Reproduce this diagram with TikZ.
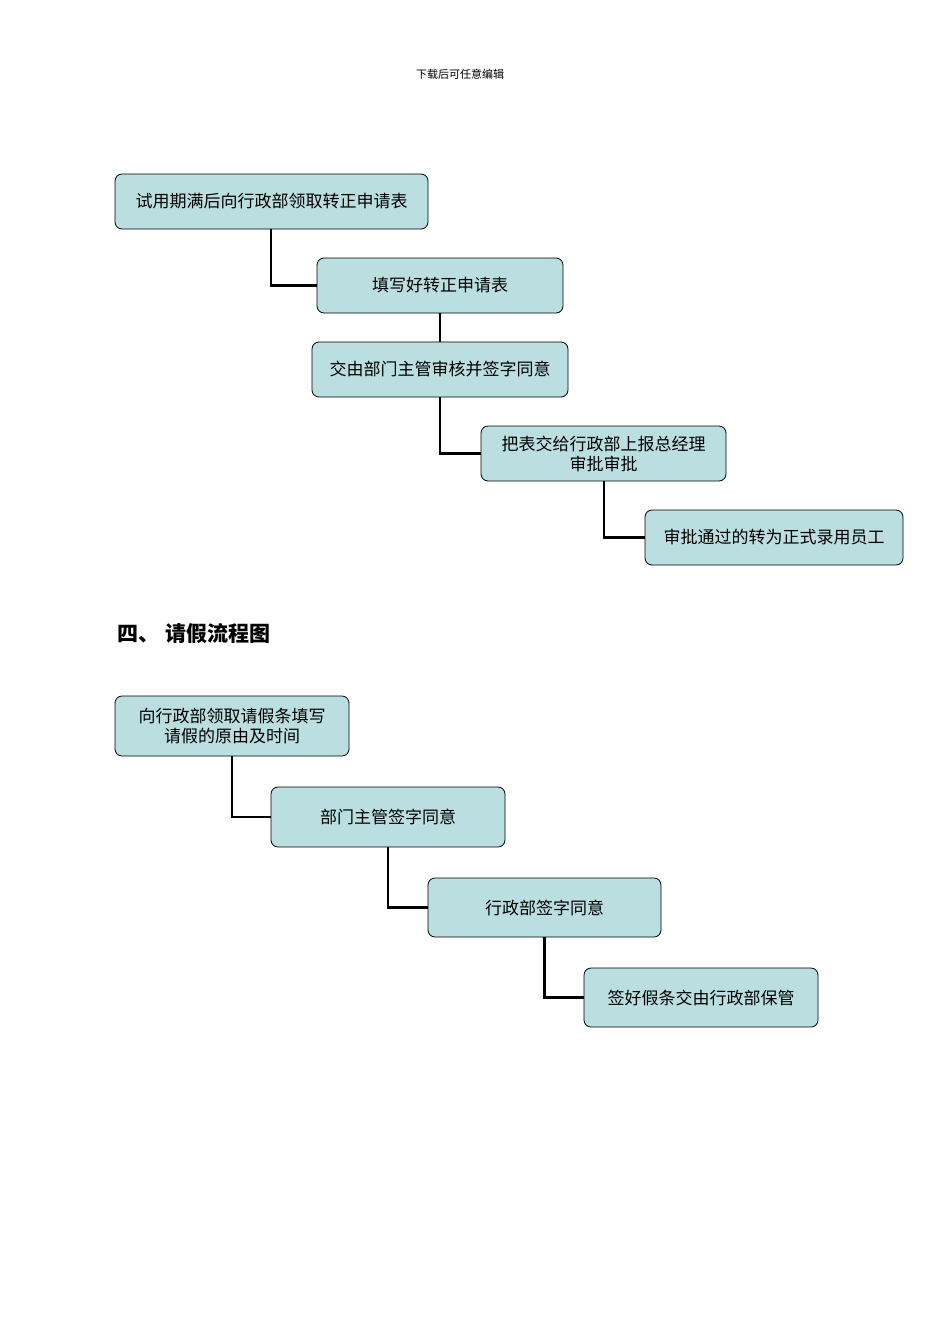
\documentclass[tikz,border=0pt]{standalone}
\usepackage{fontspec}
\setmainfont{Noto Sans CJK SC}
\begin{document}
\begin{tikzpicture}[x=1pt,y=-1pt,
  box/.style={draw=black,fill=boxfill,rounded corners=7pt,line width=0.8pt,align=center,inner sep=0pt,font=\fontsize{17}{20}\selectfont},
  conn/.style={line width=2.5pt}]
\definecolor{boxfill}{HTML}{BBDFE0}
\useasboundingbox (0,0) rectangle (950,1344);
\node[font=\fontsize{11}{13}\selectfont] (hdr) at (460,74) {下载后可任意编辑};
\newcommand{\bx}[6]{\node[box,minimum width=#4-#2,minimum height=#5-#3] (#1) at ({(#2+#4)/2},{(#3+#5)/2}) {#6};}
\bx{b1}{115}{174}{428}{229}{试用期满后向行政部领取转正申请表}
\bx{b2}{317}{258}{563}{313}{填写好转正申请表}
\bx{b3}{312}{342}{568}{397}{交由部门主管审核并签字同意}
\bx{b4}{481}{426}{726}{481}{把表交给行政部上报总经理\\审批审批}
\bx{b5}{645}{510}{903}{565}{审批通过的转为正式录用员工}
\draw[conn] (b1.south -| 271,0) |- (b2.west);
\draw[conn] (b2.south) -- (b3.north);
\draw[conn] (b3.south) |- (b4.west);
\draw[conn] (b4.south -| 604,0) |- (b5.west);
\node[anchor=west,font=\fontsize{21}{24}\selectfont\bfseries] (h4) at (114,634) {四、\hspace{6pt}请假流程图};
\bx{c1}{115}{696}{349}{756}{向行政部领取请假条填写\\请假的原由及时间}
\bx{c2}{271}{787}{505}{847}{部门主管签字同意}
\bx{c3}{428}{878}{661}{937}{行政部签字同意}
\bx{c4}{584}{968}{818}{1027}{签好假条交由行政部保管}
\draw[conn] (c1.south) |- (c2.west);
\draw[conn] (c2.south) |- (c3.west);
\draw[conn] (c3.south) |- (c4.west);
\end{tikzpicture}
\end{document}
